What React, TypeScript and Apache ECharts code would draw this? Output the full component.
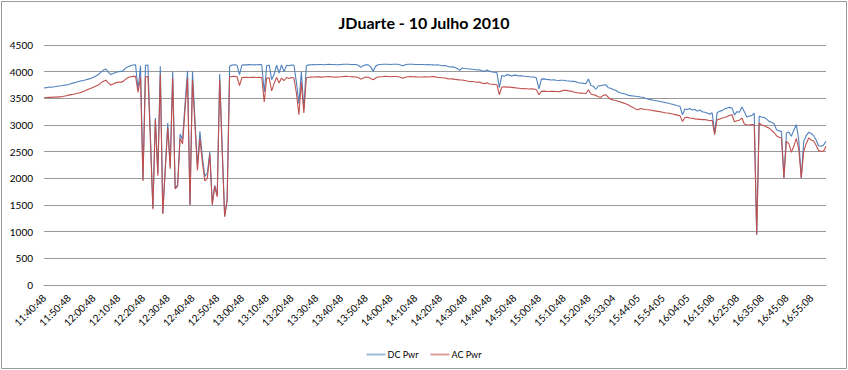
import React, { useEffect, useRef } from "react";
import * as echarts from "echarts";

const tickLabels = [
  "11:40:48", "11:50:48", "12:00:48", "12:10:48", "12:20:48", "12:30:48", "12:40:48", "12:50:48",
  "13:00:48", "13:10:48", "13:20:48", "13:30:48", "13:40:48", "13:50:48", "14:00:48", "14:10:48",
  "14:20:48", "14:30:48", "14:40:48", "14:50:48", "15:00:48", "15:10:48", "15:20:48", "15:33:04",
  "15:44:05", "15:54:05", "16:04:05", "16:15:08", "16:25:08", "16:35:08", "16:45:08", "16:55:08",
];

const dcPwr = [
  3694, 3700, 3712, 3708, 3718, 3722, 3730, 3735, 3745, 3752,
  3760, 3778, 3790, 3800, 3815, 3828, 3835, 3848, 3860, 3875,
  3895, 3920, 3945, 3990, 4030, 4050, 3990, 3945, 3965, 3985,
  4000, 4005, 4018, 4070, 4090, 4110, 4125, 4130, 3662, 4110,
  1975, 4120, 4125, 2800, 1444, 3131, 2100, 4100, 1350, 2200,
  3037, 2224, 4006, 1819, 1880, 2831, 2724, 3400, 4018, 1506,
  4006, 3100, 2224, 2880, 2400, 2036, 2100, 2494, 1537, 1868,
  1693, 3956, 2600, 1286, 1600, 4100, 4125, 4130, 4120, 3943,
  4125, 4130, 4128, 4132, 4130, 4128, 4130, 4133, 4130, 3620,
  4110, 4125, 3850, 3950, 4120, 3975, 4125, 4000, 4120, 4110,
  4125, 4120, 3800, 3400, 4000, 3300, 4110, 4128, 4130, 4132,
  4130, 4135, 4133, 4130, 4135, 4138, 4135, 4133, 4130, 4132,
  4135, 4138, 4140, 4138, 4135, 4135, 4133, 4120, 4080, 4110,
  4130, 4128, 4090, 4010, 4100, 4130, 4135, 4138, 4140, 4138,
  4135, 4138, 4140, 4138, 4125, 4110, 4130, 4138, 4140, 4138,
  4135, 4135, 4133, 4133, 4130, 4135, 4130, 4128, 4125, 4130,
  4120, 4110, 4115, 4100, 4087, 4090, 4080, 4060, 4025, 4070,
  4060, 4055, 4050, 4045, 4040, 4030, 4035, 4015, 4006, 4030,
  4010, 3995, 3990, 3985, 3700, 3930, 3912, 3945, 3935, 3920,
  3935, 3930, 3920, 3925, 3915, 3910, 3905, 3900, 3900, 3880,
  3675, 3860, 3865, 3855, 3850, 3845, 3848, 3840, 3835, 3838,
  3840, 3830, 3825, 3820, 3818, 3810, 3790, 3787, 3780, 3775,
  3862, 3740, 3725, 3670, 3735, 3735, 3750, 3756, 3700, 3690,
  3665, 3650, 3620, 3600, 3590, 3580, 3560, 3550, 3545, 3540,
  3535, 3525, 3520, 3500, 3490, 3475, 3468, 3460, 3450, 3440,
  3430, 3420, 3412, 3400, 3390, 3375, 3360, 3350, 3193, 3300,
  3290, 3310, 3280, 3290, 3260, 3280, 3250, 3240, 3225, 3200,
  3230, 2850, 3230, 3260, 3270, 3300, 3318, 3330, 3320, 3190,
  3250, 3240, 3337, 3250, 3150, 3170, 3175, 3225, 943, 3162,
  3150, 3140, 3110, 3068, 3050, 3030, 2912, 2890, 2880, 2006,
  2850, 2870, 2790, 2900, 3006, 2720, 2006, 2693, 2800, 2862,
  2840, 2800, 2720, 2610, 2600, 2625, 2693,
];

const acPwr = [
  3505, 3515, 3520, 3518, 3525, 3522, 3530, 3528, 3540, 3548,
  3560, 3570, 3578, 3590, 3600, 3612, 3630, 3650, 3670, 3690,
  3710, 3730, 3750, 3790, 3820, 3840, 3790, 3750, 3770, 3790,
  3805, 3800, 3818, 3860, 3890, 3905, 3912, 3915, 3610, 3900,
  1950, 3905, 3910, 2700, 1420, 3100, 2050, 3950, 1330, 2150,
  2950, 2180, 3880, 1800, 1850, 2750, 2650, 3300, 3880, 1500,
  3850, 3000, 2150, 2750, 2300, 1950, 2000, 2450, 1500, 1850,
  1650, 3850, 2500, 1280, 1580, 3900, 3910, 3912, 3905, 3737,
  3890, 3893, 3895, 3890, 3893, 3895, 3890, 3893, 3890, 3431,
  3880, 3885, 3640, 3780, 3890, 3787, 3880, 3830, 3890, 3870,
  3890, 3880, 3600, 3193, 3800, 3225, 3880, 3895, 3898, 3900,
  3905, 3902, 3898, 3900, 3905, 3908, 3903, 3900, 3898, 3900,
  3905, 3910, 3912, 3908, 3905, 3903, 3900, 3890, 3860, 3880,
  3898, 3895, 3870, 3850, 3880, 3900, 3905, 3908, 3912, 3910,
  3905, 3908, 3910, 3908, 3895, 3875, 3895, 3905, 3908, 3905,
  3903, 3900, 3900, 3900, 3902, 3900, 3905, 3908, 3903, 3895,
  3890, 3885, 3880, 3870, 3862, 3865, 3855, 3850, 3843, 3845,
  3835, 3825, 3818, 3815, 3810, 3800, 3805, 3785, 3775, 3790,
  3770, 3765, 3760, 3755, 3568, 3712, 3715, 3710, 3712, 3705,
  3700, 3695, 3690, 3681, 3685, 3680, 3675, 3680, 3675, 3660,
  3568, 3631, 3635, 3630, 3628, 3632, 3630, 3628, 3625, 3635,
  3650, 3650, 3640, 3635, 3620, 3610, 3600, 3598, 3595, 3590,
  3662, 3580, 3568, 3555, 3530, 3520, 3555, 3568, 3520, 3480,
  3470, 3460, 3444, 3430, 3415, 3400, 3380, 3350, 3330, 3300,
  3287, 3310, 3300, 3290, 3285, 3280, 3270, 3265, 3255, 3250,
  3240, 3230, 3225, 3215, 3205, 3195, 3185, 3175, 3068, 3140,
  3145, 3130, 3125, 3115, 3110, 3105, 3100, 3100, 3095, 3080,
  3090, 2818, 3100, 3110, 3130, 3140, 3160, 3180, 3193, 3060,
  3080, 3090, 3130, 3020, 3006, 3000, 3010, 3006, 943, 3037,
  3000, 2990, 2960, 2943, 2900, 2860, 2800, 2770, 2756, 2006,
  2693, 2650, 2487, 2600, 2750, 2550, 2006, 2506, 2650, 2756,
  2720, 2700, 2620, 2520, 2506, 2510, 2600,
];

const POINTS_PER_TICK = 10;

function toSec(s: string): number {
  const [h, m, sec] = s.split(":").map(Number);
  return h * 3600 + m * 60 + sec;
}
function fmt(t: number): string {
  const h = Math.floor(t / 3600);
  const m = Math.floor((t % 3600) / 60);
  const s = t % 60;
  const p = (n: number) => String(n).padStart(2, "0");
  return `${h}:${p(m)}:${p(s)}`;
}

const categories: string[] = [];
for (let k = 0; k < tickLabels.length; k++) {
  const start = toSec(tickLabels[k]);
  const end = k + 1 < tickLabels.length ? toSec(tickLabels[k + 1]) : start + 600;
  for (let j = 0; j < POINTS_PER_TICK; j++) {
    categories.push(j === 0 ? tickLabels[k] : fmt(start + Math.round(((end - start) * j) / POINTS_PER_TICK)));
  }
}
const xCats = categories.slice(0, dcPwr.length);

const FONT = "Lato, 'Liberation Sans', sans-serif";

export default function App() {
  const ref = useRef<HTMLDivElement>(null);
  useEffect(() => {
    if (!ref.current) return;
    const chart = echarts.init(ref.current, undefined, { renderer: "svg" });
    chart.setOption({
      animation: false,
      backgroundColor: "#ffffff",
      title: {
        text: "JDuarte - 10 Julho 2010",
        left: "center",
        top: 9,
        textStyle: { fontFamily: FONT, fontSize: 16, fontWeight: "bold", color: "#000" },
      },
      legend: {
        data: [
          { name: "DC Pwr", icon: "rect", itemStyle: { color: "#4F81BD", opacity: 0.55 } },
          { name: "AC Pwr", icon: "rect", itemStyle: { color: "#C0504D", opacity: 0.55 } },
        ],
        left: "center",
        top: 345,
        itemWidth: 19,
        itemHeight: 2,
        itemGap: 12,
        textStyle: { fontFamily: FONT, fontSize: 9, color: "#000", padding: [0, 0, 0, -3] },
      },
      graphic: [
        {
          type: "rect",
          shape: { x: 1.5, y: 1.5, width: 845, height: 367 },
          style: { fill: "none", stroke: "#9a9a9a", lineWidth: 1 },
          silent: true,
        },
      ],
      grid: { left: 44, right: 22, top: 45, bottom: 85, containLabel: false },
      xAxis: {
        type: "category",
        data: xCats,
        boundaryGap: false,
        axisLine: { show: true, lineStyle: { color: "#9a9a9a", width: 1 } },
        axisTick: { show: false },
        axisLabel: {
          interval: POINTS_PER_TICK - 1,
          rotate: 45,
          margin: 11,
          fontFamily: FONT,
          fontSize: 10,
          color: "#000",
        },
        splitLine: { show: false },
      },
      yAxis: {
        type: "value",
        min: 0,
        max: 4500,
        interval: 500,
        axisLine: { show: false },
        axisTick: { show: false },
        axisLabel: {
          margin: 11,
          fontFamily: FONT,
          fontSize: 10,
          color: "#000",
          formatter: (v: number) => String(v),
        },
        splitLine: { show: true, lineStyle: { color: "#9a9a9a", width: 1 } },
      },
      series: [
        {
          name: "DC Pwr",
          type: "line",
          data: dcPwr,
          symbol: "none",
          showSymbol: false,
          lineStyle: { color: "#4F81BD", width: 1.1 },
          itemStyle: { color: "#4F81BD" },
        },
        {
          name: "AC Pwr",
          type: "line",
          data: acPwr,
          symbol: "none",
          showSymbol: false,
          lineStyle: { color: "#C0504D", width: 1.1 },
          itemStyle: { color: "#C0504D" },
        },
      ],
    });
    return () => chart.dispose();
  }, []);
  return (
    <div
      ref={ref}
      style={{ position: "absolute", left: 0, top: 0, width: 848, height: 370, background: "#fff" }}
    />
  );
}
